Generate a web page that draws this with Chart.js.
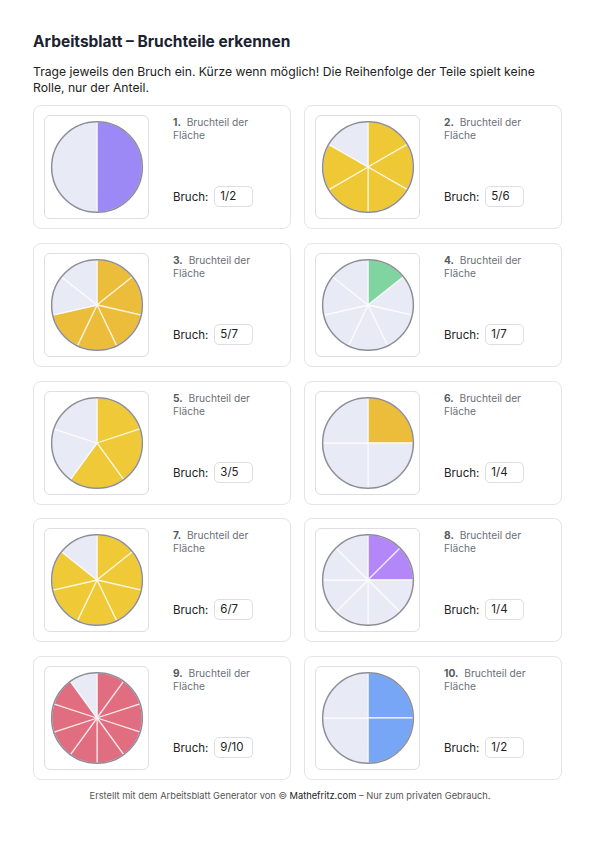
<!DOCTYPE html>
<html lang="de">
<head>
<meta charset="UTF-8" />
<title>Arbeitsblatt – Bruchteile erkennen</title>
<script src="https://cdn.jsdelivr.net/npm/chart.js"></script>
<style>
    body {
        margin: 0;
        width: 595px;
        height: 841px;
        background: #fff;
        font-family: Inter, "Noto Sans", sans-serif;
        color: #1f2430;
        position: relative;
    }
    h1 {
        position: absolute;
        left: 33px;
        top: 31px;
        margin: 0;
        font-size: 15.5px;
        line-height: 22px;
        font-weight: 700;
        color: #1c2230;
    }
    .intro {
        position: absolute;
        left: 33px;
        top: 64px;
        width: 530px;
        margin: 0;
        font-size: 12.2px;
        line-height: 15.5px;
        color: #222;
    }
    .card {
        position: absolute;
        width: 258px;
        height: 124px;
        border: 1px solid #e3e5ea;
        border-radius: 8px;
        box-sizing: border-box;
    }
    .box {
        position: absolute;
        left: 10px;
        top: 9px;
        width: 105px;
        height: 104px;
        border: 1px solid #dcdee3;
        border-radius: 6px;
        box-sizing: border-box;
        display: flex;
        align-items: center;
        justify-content: center;
    }
    .label {
        position: absolute;
        left: 139px;
        top: 10px;
        width: 110px;
        font-size: 10.2px;
        line-height: 12.5px;
        color: #6b6f78;
        white-space: nowrap;
    }
    .label b {
        color: #555a63;
        margin-right: 3px;
    }
    .bruch {
        position: absolute;
        left: 139px;
        top: 80px;
        font-size: 11.5px;
        color: #222;
        display: flex;
        align-items: center;
    }
    .answer {
        margin-left: 6px;
        width: 39px;
        height: 21px;
        border: 1px solid #dcdee3;
        border-radius: 5px;
        box-sizing: border-box;
        padding-left: 5px;
        line-height: 19px;
        font-size: 11.5px;
    }
    .footer {
        position: absolute;
        left: 0;
        top: 790px;
        width: 580px;
        text-align: center;
        font-size: 9.3px;
        color: #555;
    }
    .footer span { color: #222; }
</style>
</head>
<body>

<h1>Arbeitsblatt – Bruchteile erkennen</h1>
<p class="intro">Trage jeweils den Bruch ein. Kürze wenn möglich! Die Reihenfolge der Teile spielt keine Rolle, nur der Anteil.</p>
<div id="sheet"></div>
<div class="footer">Erstellt mit dem Arbeitsblatt Generator von © <span>Mathefritz.com</span> – Nur zum privaten Gebrauch.</div>

<script>
    // Daten der Aufgaben
    const parts = [2, 6, 7, 7, 5, 4, 7, 8, 10, 4];      // Anzahl Teile
    const filled = [1, 5, 5, 1, 3, 1, 6, 2, 9, 2];      // gefärbte Teile
    const answers = ['1/2', '5/6', '5/7', '1/7', '3/5', '1/4', '6/7', '1/4', '9/10', '1/2'];
    const fillColors = ['#9d89f6', '#efc935', '#ebbd3a', '#80d4a0', '#efc937',
                        '#ebbd3a', '#efca36', '#b387f8', '#e06e80', '#78a6f6'];
    const emptyColor = '#e8eaf6';

    const colX = [33, 304];
    const rowY = [105, 243, 381, 518, 656];

    // Kreisrand zeichnen
    const ringPlugin = {
        id: 'ring',
        afterDatasetsDraw(chart) {
            const arc = chart.getDatasetMeta(0).data[0];
            const c = chart.ctx;
            c.save();
            c.beginPath();
            c.arc(arc.x, arc.y, arc.outerRadius, 0, Math.PI * 2);
            c.strokeStyle = '#8c8d97';
            c.lineWidth = 1.5;
            c.stroke();
            c.restore();
        }
    };

    const sheet = document.getElementById('sheet');

    parts.forEach((n, i) => {
        const card = document.createElement('div');
        card.className = 'card';
        card.style.left = colX[i % 2] + 'px';
        card.style.top = rowY[Math.floor(i / 2)] + 'px';
        card.innerHTML =
            '<div class="box"><canvas width="94" height="94"></canvas></div>' +
            '<div class="label"><div><b>' + (i + 1) + '.</b> Bruchteil der</div><div>Fläche</div></div>' +
            '<div class="bruch">Bruch: <div class="answer">' + answers[i] + '</div></div>';
        sheet.appendChild(card);

        const values = [];
        const colors = [];
        for (let k = 0; k < n; k++) {
            values.push(1);
            colors.push(k < filled[i] ? fillColors[i] : emptyColor);
        }

        new Chart(card.querySelector('canvas'), {
            type: 'pie',
            data: {
                labels: values.map((v, k) => 'Teil ' + (k + 1)),
                datasets: [{
                    data: values,
                    backgroundColor: colors,
                    borderColor: 'rgba(255, 255, 255, 0.7)',
                    borderWidth: 1.3
                }]
            },
            options: {
                responsive: false,
                animation: false,
                layout: { padding: 1 },
                plugins: {
                    legend: { display: false },
                    tooltip: { enabled: false }
                }
            },
            plugins: [ringPlugin]
        });
    });
</script>
</body>
</html>
